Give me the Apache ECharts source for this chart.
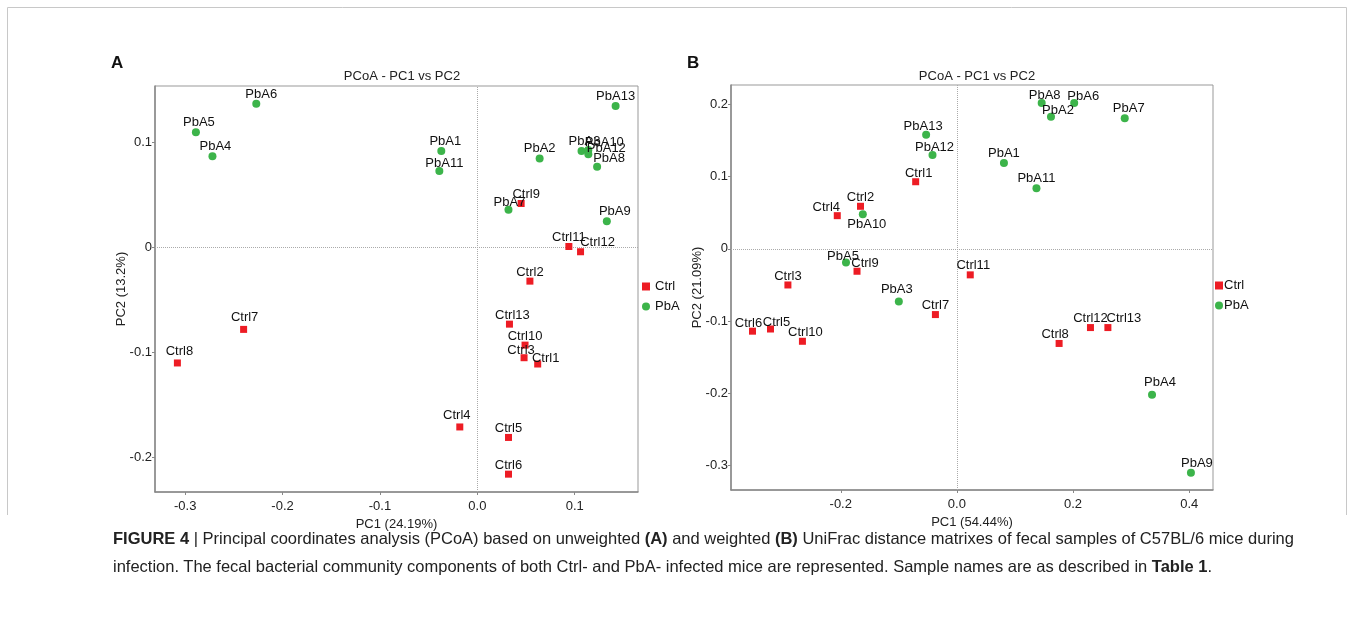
<!DOCTYPE html>
<html>
<head>
<meta charset="utf-8">
<script src="https://cdn.jsdelivr.net/npm/echarts@6/dist/echarts.min.js"></script>
<style>
    body { margin: 0; background: #fff; }
    #wrap { position: relative; width: 1354px; height: 621px; }
    #chart { width: 1354px; height: 621px; }
    #caption {
        position: absolute; left: 113px; top: 524px; width: 1235px; white-space: nowrap;
        font-family: 'Liberation Sans', Arial, sans-serif; font-size: 16.5px; line-height: 28px; color: #222;
    }
</style>
</head>
<body>
<div id="wrap">
    <div id="chart"></div>
    <div id="caption"><b>FIGURE 4</b> | Principal coordinates analysis (PCoA) based on unweighted <b>(A)</b> and weighted <b>(B)</b> UniFrac distance matrixes of fecal samples of C57BL/6 mice during<br>infection. The fecal bacterial community components of both Ctrl- and PbA- infected mice are represented. Sample names are as described in <b>Table 1</b>.</div>
</div>
<script>
// ---- data ----
const ctrlNames = ['Ctrl1', 'Ctrl2', 'Ctrl3', 'Ctrl4', 'Ctrl5', 'Ctrl6', 'Ctrl7', 'Ctrl8', 'Ctrl9', 'Ctrl10', 'Ctrl11', 'Ctrl12', 'Ctrl13'];
const pbaNames = ['PbA1', 'PbA2', 'PbA3', 'PbA4', 'PbA5', 'PbA6', 'PbA7', 'PbA8', 'PbA9', 'PbA10', 'PbA11', 'PbA12', 'PbA13'];

// panel A (unweighted)
const ctrlXA = [0.062, 0.054, 0.048, -0.018, 0.032, 0.032, -0.240, -0.308, 0.045, 0.049, 0.094, 0.106, 0.033];
const ctrlYA = [-0.111, -0.032, -0.105, -0.171, -0.181, -0.216, -0.078, -0.110, 0.042, -0.093, 0.001, -0.004, -0.073];
const pbaXA = [-0.037, 0.064, 0.107, -0.272, -0.289, -0.227, 0.032, 0.123, 0.133, 0.114, -0.039, 0.114, 0.142];
const pbaYA = [0.092, 0.085, 0.092, 0.087, 0.110, 0.137, 0.036, 0.077, 0.025, 0.093, 0.073, 0.089, 0.135];

// panel B (weighted)
const ctrlXB = [-0.071, -0.166, -0.291, -0.206, -0.321, -0.352, -0.037, 0.176, -0.172, -0.266, 0.023, 0.230, 0.260];
const ctrlYB = [0.093, 0.059, -0.050, 0.046, -0.111, -0.114, -0.091, -0.131, -0.031, -0.128, -0.036, -0.109, -0.109];
const pbaXB = [0.081, 0.162, -0.100, 0.336, -0.191, 0.202, 0.289, 0.146, 0.403, -0.162, 0.137, -0.042, -0.053];
const pbaYB = [0.119, 0.183, -0.073, -0.202, -0.019, 0.202, 0.181, 0.202, -0.310, 0.048, 0.084, 0.130, 0.158];

// tick values and their labels
const xTicksA = [-0.3, -0.2, -0.1, 0, 0.1];
const xTickLabelsA = ['-0.3', '-0.2', '-0.1', '0.0', '0.1'];
const yTicksA = [-0.2, -0.1, 0, 0.1];
const yTickLabelsA = ['-0.2', '-0.1', '0', '0.1'];
const xTicksB = [-0.2, 0, 0.2, 0.4];
const xTickLabelsB = ['-0.2', '0.0', '0.2', '0.4'];
const yTicksB = [-0.3, -0.2, -0.1, 0, 0.1, 0.2];
const yTickLabelsB = ['-0.3', '-0.2', '-0.1', '0', '0.1', '0.2'];

// small label shifts where the original labels sit off-centre
const nudgeA = {
    Ctrl9: [5, 0], PbA7: [1, 2], PbA3: [3, 0], PbA10: [16, 2], PbA12: [18, 4], PbA8: [12, 1],
    Ctrl12: [17, 0], Ctrl1: [8, 3], Ctrl3: [-3, 2], PbA6: [5, 0], PbA1: [4, 0], PbA11: [5, 2],
    PbA9: [8, 0], Ctrl13: [3, 0], Ctrl4: [-3, -3], Ctrl7: [1, -3], Ctrl8: [2, -3], PbA5: [3, 0], PbA4: [3, 0]
};
const nudgeB = {
    PbA10: [4, 20], Ctrl9: [8, 1], Ctrl13: [16, 0], Ctrl6: [-4, 1], Ctrl5: [6, 2], PbA8: [3, 2],
    PbA6: [9, 3], PbA2: [7, 3], Ctrl11: [3, 0], PbA9: [6, 0], PbA5: [-3, 3], PbA3: [-2, -3],
    PbA13: [-3, 1], PbA12: [2, 2], Ctrl1: [3, 1], Ctrl4: [-11, 1], Ctrl10: [3, 0], Ctrl8: [-4, 0],
    PbA4: [8, -3], PbA7: [4, 0]
};

const FONT = "'Liberation Sans', Arial, sans-serif";
const RED = '#ed1c24';
const GREEN = '#3cb44a';

function points(names, xs, ys) {
    return names.map(function (n, i) {
        return { name: n, value: [xs[i], ys[i]] };
    });
}

function fmt(ticks, labels) {
    return function (v) {
        for (let i = 0; i < ticks.length; i++) {
            if (Math.abs(ticks[i] - v) < 1e-9) return labels[i];
        }
        return '';
    };
}

function xAxisOf(idx, min, max, ticks, labels, name) {
    return {
        gridIndex: idx, type: 'value', min: min, max: max,
        name: name, nameLocation: 'middle', nameGap: 25,
        nameTextStyle: { fontFamily: FONT, fontSize: 13, color: '#222' },
        axisLine: { show: true, onZero: false, lineStyle: { color: '#888', width: 1.5 } },
        axisTick: { show: true, length: 3, customValues: ticks, lineStyle: { color: '#888' } },
        axisLabel: { customValues: ticks, formatter: fmt(ticks, labels), margin: 8, fontFamily: FONT, fontSize: 13, color: '#222' },
        splitLine: { show: false }
    };
}

function yAxisOf(idx, min, max, ticks, labels, name) {
    return {
        gridIndex: idx, type: 'value', min: min, max: max,
        name: name, nameLocation: 'middle', nameGap: 27, nameMoveOverlap: false,
        nameTextStyle: { fontFamily: FONT, fontSize: 13, color: '#222' },
        axisLine: { show: true, onZero: false, lineStyle: { color: '#888', width: 1.5 } },
        axisTick: { show: true, length: 3, customValues: ticks, lineStyle: { color: '#888' } },
        axisLabel: { customValues: ticks, formatter: fmt(ticks, labels), margin: 3, fontFamily: FONT, fontSize: 13, color: '#222' },
        splitLine: { show: false }
    };
}

function scatter(name, idx, names, data, nudge, symbol, size, color, zeroLines) {
    let s = {
        name: name, type: 'scatter', xAxisIndex: idx, yAxisIndex: idx,
        symbol: symbol, symbolSize: size, data: data,
        itemStyle: { color: color, opacity: 1 },
        label: { show: true, position: 'top', distance: -1, formatter: '{b}', fontFamily: FONT, fontSize: 13, color: '#111' },
        labelLayout: function (params) {
            let d = nudge[names[params.dataIndex]];
            return d ? { dx: d[0], dy: d[1], hideOverlap: false } : { hideOverlap: false };
        },
        emphasis: { disabled: true },
        z: 3
    };
    if (zeroLines) {
        s.markLine = {
            silent: true, symbol: 'none', label: { show: false },
            lineStyle: { type: 'dotted', color: '#aaa', width: 1 },
            data: [{ xAxis: 0 }, { yAxis: 0 }],
            z: 1
        };
    }
    return s;
}

let chart = echarts.init(document.getElementById('chart'));
let option = {
    animation: false,
    title: [
        { text: 'PCoA - PC1 vs PC2', left: 397, top: 65, textAlign: 'center', textStyle: { fontFamily: FONT, fontSize: 13, fontWeight: 'normal', color: '#222' } },
        { text: 'PCoA - PC1 vs PC2', left: 972, top: 65, textAlign: 'center', textStyle: { fontFamily: FONT, fontSize: 13, fontWeight: 'normal', color: '#222' } }
    ],
    legend: [
        {
            left: 642, top: 280, orient: 'vertical', padding: 0, itemGap: 7, itemWidth: 8, itemHeight: 8,
            data: [{ name: 'Ctrl', icon: 'rect' }, { name: 'PbA', icon: 'circle' }],
            textStyle: { fontFamily: FONT, fontSize: 13, color: '#111' }, selectedMode: false
        },
        {
            left: 1215, top: 279, orient: 'vertical', padding: 0, itemGap: 7, itemWidth: 8, itemHeight: 8,
            data: [{ name: 'Ctrl', icon: 'rect' }, { name: 'PbA', icon: 'circle' }],
            textStyle: { fontFamily: FONT, fontSize: 13, color: '#111', padding: [0, 0, 0, -4] }, selectedMode: false
        }
    ],
    grid: [
        { left: 155, top: 86, width: 483, height: 406, show: true, borderColor: '#999', borderWidth: 1 },
        { left: 731, top: 85, width: 482, height: 405, show: true, borderColor: '#999', borderWidth: 1 }
    ],
    xAxis: [
        xAxisOf(0, -0.331, 0.165, xTicksA, xTickLabelsA, 'PC1 (24.19%)'),
        xAxisOf(1, -0.389, 0.441, xTicksB, xTickLabelsB, 'PC1 (54.44%)')
    ],
    yAxis: [
        yAxisOf(0, -0.233, 0.154, yTicksA, yTickLabelsA, 'PC2 (13.2%)'),
        yAxisOf(1, -0.334, 0.227, yTicksB, yTickLabelsB, 'PC2 (21.09%)')
    ],
    series: [
        scatter('Ctrl', 0, ctrlNames, points(ctrlNames, ctrlXA, ctrlYA), nudgeA, 'rect', 7, RED, true),
        scatter('PbA', 0, pbaNames, points(pbaNames, pbaXA, pbaYA), nudgeA, 'circle', 8, GREEN, false),
        scatter('Ctrl', 1, ctrlNames, points(ctrlNames, ctrlXB, ctrlYB), nudgeB, 'rect', 7, RED, true),
        scatter('PbA', 1, pbaNames, points(pbaNames, pbaXB, pbaYB), nudgeB, 'circle', 8, GREEN, false)
    ],
    graphic: [
        { type: 'polyline', silent: true, shape: { points: [[7.5, 515], [7.5, 7.5], [1346.5, 7.5], [1346.5, 515]] }, style: { stroke: '#c8c8c8', fill: null, lineWidth: 1 } },
        { type: 'text', left: 111, top: 55, style: { text: 'A', font: 'bold 17px ' + FONT, fill: '#111' } },
        { type: 'text', left: 687, top: 55, style: { text: 'B', font: 'bold 17px ' + FONT, fill: '#111' } }
    ]
};
chart.setOption(option);
</script>
</body>
</html>
